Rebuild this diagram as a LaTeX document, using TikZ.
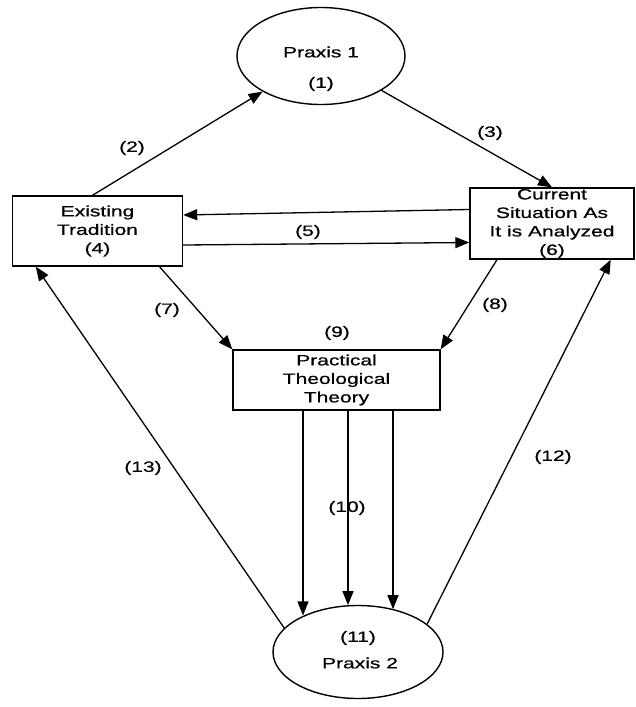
\documentclass[tikz,border=0pt]{standalone}
\usepackage{fontspec}
\setmainfont{Liberation Sans}[FakeStretch=1.4,FakeBold=0.6]
\usetikzlibrary{arrows.meta,shapes.geometric}
\begin{document}
\begin{tikzpicture}[x=1pt,y=-1pt,
  every node/.style={font=\fontsize{15}{18.5}\selectfont, inner sep=0pt},
  box/.style={draw, line width=1.4pt, align=center},
  ell/.style={draw, ellipse, line width=1.4pt},
  conn/.style={line width=1.3pt, -{Triangle[length=14pt,width=11pt]}},
  lbl/.style={inner sep=0pt}]
\useasboundingbox[fill=white] (0,0) rectangle (636,707);

% nodes
\node[ell, minimum width=168pt, minimum height=97pt] (p1) at (321,56) {};
\node[lbl] (p1a) at (321,52) {Praxis 1};
\node[lbl] (p1b) at (321,84) {(1)};
\node[box, minimum width=170pt, minimum height=70pt] (trad) at (97.5,231) {Existing\\Tradition\\(4)};
\node[box, minimum width=164pt, minimum height=71pt] (cur) at (552,223.5) {Current\\Situation As\\It is Analyzed\\(6)};
\node[box, minimum width=207pt, minimum height=60pt] (ptt) at (336.5,380) {Practical\\Theological\\Theory};
\node[ell, minimum width=170pt, minimum height=93pt] (p2) at (358,652) {};
\node[lbl] (p2a) at (358,638) {(11)};
\node[lbl] (p2b) at (360,663) {Praxis 2};

% connectors
\draw[conn] ([xshift=-5pt]trad.north) -- (p1);
\draw[conn] (p1) -- (cur.north);
\draw[conn] ([yshift=14pt]cur.west) -- ([yshift=16pt]trad.east);
\draw[conn] ([yshift=-14pt]trad.east) -- ([yshift=-19pt]cur.west);
\draw[conn] ([xshift=62pt]trad.south) -- (ptt.north west);
\draw[conn] ([xshift=-55pt]cur.south) -- (ptt.north east);
\draw[conn] ([xshift=-33.5pt]ptt.south) -- ([xshift=-33.5pt]ptt.south |- p2.146.8);
\draw[conn] ([xshift=11.5pt]ptt.south) -- ([xshift=11.5pt]ptt.south |- p2.102.2);
\draw[conn] ([xshift=56.5pt]ptt.south) -- ([xshift=56.5pt]ptt.south |- p2.50.5);
\draw[conn] (p2.162) -- ([xshift=24pt]trad.south west);
\draw[conn] (p2.22) -- ([xshift=-24pt]cur.south east);

% labels
\node[lbl] (l2) at (132,148) {(2)};
\node[lbl] (l3) at (490,133) {(3)};
\node[lbl] (l5) at (308,232) {(5)};
\node[lbl] (l7) at (167,310) {(7)};
\node[lbl] (l8) at (495,305) {(8)};
\node[lbl] (l9) at (337,333) {(9)};
\node[lbl] (l10) at (347,508) {(10)};
\node[lbl] (l12) at (553,457) {(12)};
\node[lbl] (l13) at (143,468) {(13)};
\end{tikzpicture}
\end{document}
